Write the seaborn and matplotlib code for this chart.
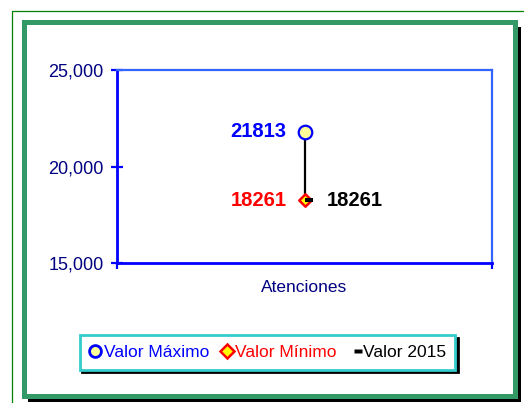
import matplotlib
matplotlib.use("Agg")
import matplotlib.pyplot as plt
import seaborn as sns
import pandas as pd
from matplotlib.patches import Rectangle
from matplotlib.lines import Line2D
from matplotlib.ticker import FuncFormatter

# data
categories = ["Atenciones"]
max_vals = [21813]
min_vals = [18261]
vals_2015 = [18261]
legend_labels = ["Valor Máximo", "Valor Mínimo", "Valor 2015"]
y_ticks = [15000, 20000, 25000]

sns.set_style("white")
plt.rcParams["font.family"] = ["Liberation Sans", "DejaVu Sans"]

df = pd.DataFrame({"cat": categories, "max": max_vals, "min": min_vals, "v2015": vals_2015})

W, H = 524, 403
fig = plt.figure(figsize=(W / 100, H / 100), dpi=100)


def px_rect(x0, y0, x1, y1, **kw):
    # rectangle in pixel coords (top-left origin) -> figure fraction
    return Rectangle((x0 / W, 1 - y1 / H), (x1 - x0) / W, (y1 - y0) / H,
                     transform=fig.transFigure, figure=fig, zorder=-10, **kw)


# outer thin green line, frame shadow and thick green frame
fig.patches.append(px_rect(12, 11, 600, 500, fill=False, edgecolor="#008000", linewidth=0.9))
fig.patches.append(px_rect(28, 27, 521, 402, facecolor="black", edgecolor="none"))
fig.patches.append(px_rect(23.5, 22, 514.5, 395.5, facecolor="white", edgecolor="#339966", linewidth=3.6))

ax = fig.add_axes([117 / W, 1 - 263 / H, 375 / W, 193 / H])
ax.set_facecolor("none")

dash = [(0, -0.22), (1, -0.22), (1, 0.22), (0, 0.22)]
x = list(range(len(categories)))

ax.vlines(x, df["min"], df["max"], color="black", linewidth=1.6, zorder=2)
sns.scatterplot(data=df, x="cat", y="max", marker="o", s=95, color="#FFFF99",
                edgecolor="#0000FF", linewidth=1.6, ax=ax, zorder=3)
sns.scatterplot(data=df, x="cat", y="min", marker="D", s=40, color="#FFFF00",
                edgecolor="#FF0000", linewidth=1.8, ax=ax, zorder=3)
sns.scatterplot(data=df, x="cat", y="v2015", marker=dash, s=135, color="black",
                edgecolor="none", linewidth=0, ax=ax, zorder=4)

for i in x:
    ax.annotate(f"{max_vals[i]}", (i, max_vals[i]), xytext=(-13, 0), textcoords="offset points",
                ha="right", va="center", fontsize=14.5, fontweight="bold", color="#0000FF")
    ax.annotate(f"{min_vals[i]}", (i, min_vals[i]), xytext=(-13, 0), textcoords="offset points",
                ha="right", va="center", fontsize=14.5, fontweight="bold", color="#FF0000")
    ax.annotate(f"{vals_2015[i]}", (i, vals_2015[i]), xytext=(16, 0), textcoords="offset points",
                ha="left", va="center", fontsize=14.5, fontweight="bold", color="black")

ax.set_xlim(-0.5, len(categories) - 0.5)
ax.set_ylim(y_ticks[0], y_ticks[-1])
ax.set_yticks(y_ticks)
ax.yaxis.set_major_formatter(FuncFormatter(lambda v, p: f"{v:,.0f}"))
ax.set_xticks(x, categories)
ax.set_xticks([-0.5, len(categories) - 0.5], minor=True)
ax.set_xlabel("")
ax.set_ylabel("")

ax.tick_params(axis="y", direction="inout", length=8.5, width=1.6, color="#0000FF",
               labelsize=13, labelcolor="#000080", pad=5.5, left=True)
ax.tick_params(axis="x", which="major", length=0, labelsize=12.5, labelcolor="#000080", pad=12)
ax.tick_params(axis="x", which="minor", direction="out", length=4.5, width=1.6,
               color="#0000FF", bottom=True)

for side in ["left", "bottom"]:
    ax.spines[side].set_color("#0000FF")
    ax.spines[side].set_linewidth(2.0)
for side in ["top", "right"]:
    ax.spines[side].set_color("#3366FF")
    ax.spines[side].set_linewidth(1.6)
    ax.spines[side].set_visible(True)

handles = [
    Line2D([], [], linestyle="none", marker="o", markersize=8.5, markerfacecolor="#FFFF99",
           markeredgecolor="#0000FF", markeredgewidth=2),
    Line2D([], [], linestyle="none", marker="D", markersize=7, markerfacecolor="#FFFF00",
           markeredgecolor="#FF0000", markeredgewidth=1.8),
    Line2D([], [], linestyle="none", marker=dash, markersize=11, markerfacecolor="black",
           markeredgecolor="none"),
]
leg = ax.legend(handles, legend_labels, loc="center", bbox_to_anchor=(267.5 / W, 1 - 352.5 / H),
                bbox_transform=fig.transFigure, ncol=3, fontsize=12.5, frameon=True, fancybox=False,
                edgecolor="#33CCCC", framealpha=1, shadow={"color": "black", "alpha": 1},
                handlelength=0.7, handletextpad=0.15, columnspacing=0.65, borderpad=0.55,
                borderaxespad=0)
leg.get_frame().set_linewidth(2)
for t, c in zip(leg.get_texts(), ["#0000FF", "#FF0000", "black"]):
    t.set_color(c)

fig.savefig("out.png", dpi=100)
plt.close(fig)
